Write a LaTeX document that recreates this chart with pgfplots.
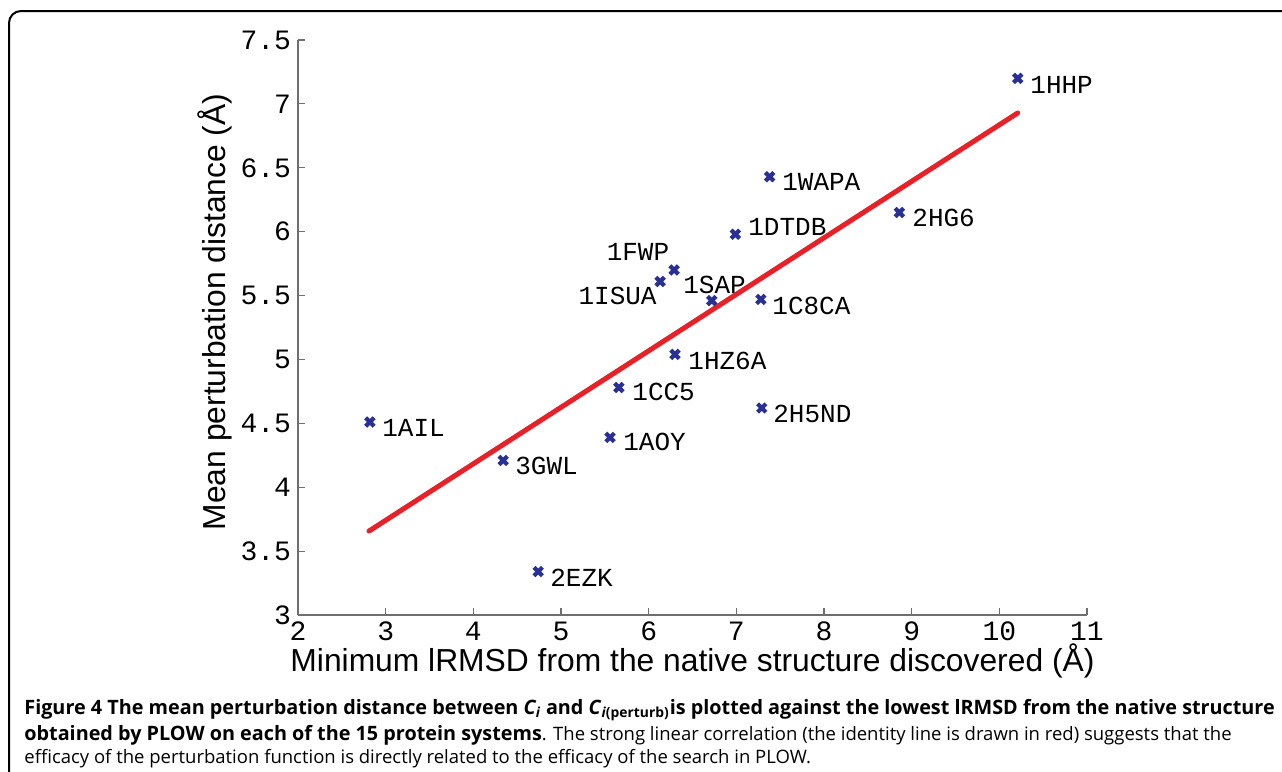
\documentclass[border=0pt]{standalone}
\usepackage{pgfplots}
\pgfplotsset{compat=1.18}
\usepackage{fontspec}
\setmainfont{Open Sans}
\newfontfamily\monof{Liberation Mono}
\newfontfamily\sansf{Liberation Sans}
\definecolor{ptblue}{RGB}{40,48,150}
\definecolor{fitred}{RGB}{232,32,40}
\definecolor{axgray}{RGB}{110,110,110}
\newcommand{\bsz}{\fontsize{9.9}{11}\selectfont}
\newcommand{\rsz}{\fontsize{9.25}{11}\selectfont}
\begin{document}
\begin{tikzpicture}[x=0.5pt,y=-0.5pt]
\useasboundingbox (0,0) rectangle (1282,772);
\draw[line width=1pt, rounded corners=6pt] (9,11) rectangle (1320,820);
\begin{axis}[
  at={(149pt,-307.5pt)}, anchor=south west,
  scale only axis, width=394.5pt, height=287.5pt,
  xmin=2, xmax=11, ymin=3, ymax=7.5,
  axis x line*=bottom, axis y line*=left,
  xtick={2,3,...,11}, ytick={3,3.5,...,7.5},
  tick align=inside, major tick length=3.5pt,
  tick style={axgray, line width=0.6pt},
  axis line style={axgray, line width=0.6pt},
  /pgf/number format/assume math mode=true,
  tick label style={font=\monof\fontsize{14}{14}\selectfont, black},
  xlabel={Minimum lRMSD from the native structure discovered (Å)},
  ylabel={Mean perturbation distance (Å)},
  label style={font=\sansf\fontsize{15.9}{15.9}\selectfont},
  xlabel style={at={(axis description cs:0.5,-0.08)}, anchor=center},
  ylabel style={at={(axis description cs:-0.105,0.527)}, anchor=center, rotate=0},
  clip=false,
]
\addplot[fitred, line width=2.5pt, line cap=round] coordinates {(2.81,3.657) (10.21,6.929)};
\addplot[only marks, mark=x, mark size=3pt, mark options={ptblue, line width=2.1pt}] coordinates {
(10.21,7.20) (7.38,6.43) (8.86,6.15) (6.99,5.98) (6.29,5.70) (6.13,5.61) (6.72,5.46)
(7.28,5.47) (6.30,5.04) (5.66,4.78) (7.29,4.62) (5.56,4.39) (2.82,4.51) (4.34,4.21) (4.74,3.34)};
\begin{scope}[every node/.style={font=\monof\fontsize{13}{13}\selectfont, inner sep=0pt}]
\node[anchor=west] at (axis cs:10.35,7.148) {1HHP};
\node[anchor=west] at (axis cs:7.52,6.389) {1WAPA};
\node[anchor=west] at (axis cs:9.004,6.107) {2HG6};
\node[anchor=west] at (axis cs:7.133,6.037) {1DTDB};
\node[anchor=center] at (axis cs:5.878,5.841) {1FWP};
\node[anchor=east] at (axis cs:6.095,5.497) {1ISUA};
\node[anchor=west] at (axis cs:6.391,5.583) {1SAP};
\node[anchor=west] at (axis cs:7.407,5.418) {1C8CA};
\node[anchor=west] at (axis cs:6.449,4.988) {1HZ6A};
\node[anchor=west] at (axis cs:5.810,4.745) {1CC5};
\node[anchor=west] at (axis cs:7.418,4.573) {2H5ND};
\node[anchor=west] at (axis cs:5.707,4.354) {1AOY};
\node[anchor=west] at (axis cs:2.958,4.463) {1AIL};
\node[anchor=west] at (axis cs:4.475,4.166) {3GWL};
\node[anchor=west] at (axis cs:4.874,3.290) {2EZK};
\end{scope}
\end{axis}
\begin{scope}[every node/.style={inner sep=0pt, anchor=base west}]
\node at (24,714) {\bsz\textbf{Figure 4 The mean perturbation distance between \textit{C\textsubscript{i}} and \textit{C}\textsubscript{\textit{i}(perturb)}is plotted against the lowest lRMSD from the native structure}};
\node at (24,740) {{\bsz\textbf{obtained by PLOW on each of the 15 protein systems}}{\rsz. The strong linear correlation (the identity line is drawn in red) suggests that the}};
\node at (24,763) {\rsz efficacy of the perturbation function is directly related to the efficacy of the search in PLOW.};
\end{scope}
\end{tikzpicture}
\end{document}
